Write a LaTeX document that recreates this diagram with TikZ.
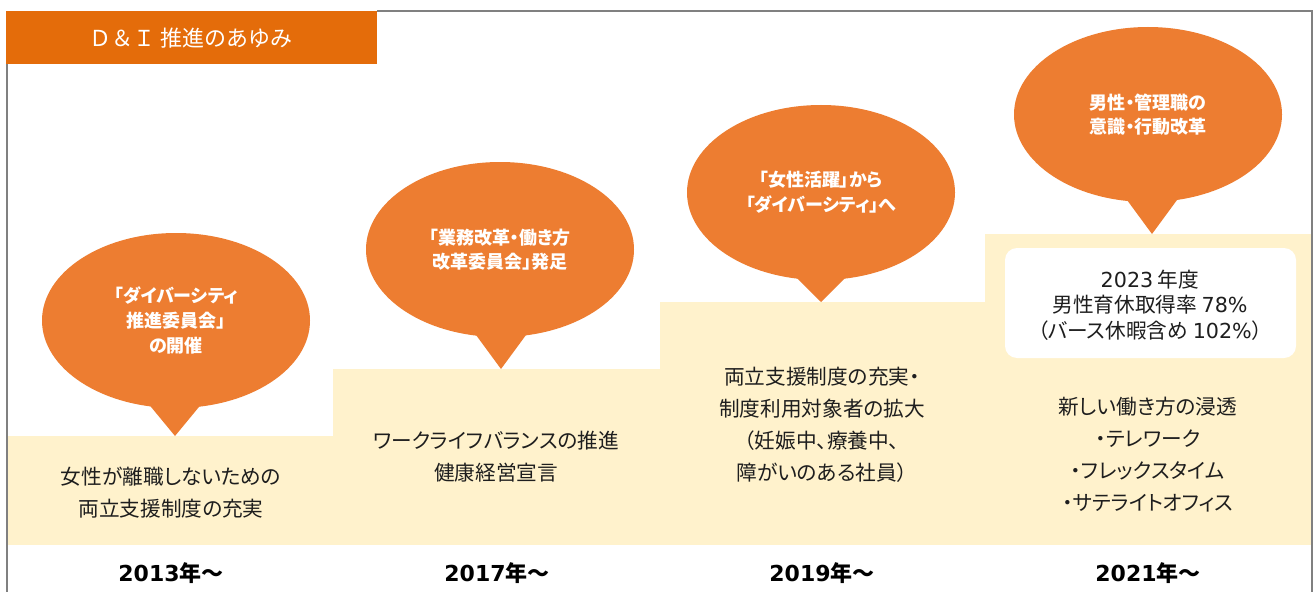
\documentclass[tikz,border=0pt]{standalone}
\usepackage{fontspec}
\setmainfont{Noto Sans CJK JP}[RawFeature=+palt]
\newfontfamily\cjkfixed{Noto Sans CJK JP}
\newfontfamily\latin{DejaVu Sans}
\usetikzlibrary{shapes.geometric,calc}
\definecolor{titleor}{HTML}{E46C0A}
\definecolor{callor}{HTML}{ED7D31}
\definecolor{stepy}{HTML}{FFF2CC}
\definecolor{framegray}{HTML}{808080}
\definecolor{txt}{HTML}{1E1E1E}
\begin{document}
\begin{tikzpicture}[x=0.75pt,y=-0.75pt,
  callout/.style={ellipse, fill=callor, minimum width=201pt, minimum height=131.25pt, inner sep=0pt,
    text=white, font=\fontsize{13.5}{18.5}\selectfont\bfseries, align=center},
  pointer/.style={fill=callor},
  stepbg/.style={fill=stepy},
  body/.style={font=\fontsize{15.5}{24}\selectfont, align=center, text=txt, inner sep=0pt},
  boxtext/.style={font=\fontsize{15.5}{19}\selectfont, align=center, text=txt, inner sep=0pt},
  year/.style={font=\fontsize{16.5}{18}\selectfont\bfseries, text=black, inner sep=0pt},
  frameline/.style={draw=framegray, line width=1.5pt}
]
\useasboundingbox (0,0) rectangle (1314,592);
\fill[white] (0,0) rectangle (1314,592);
% steps
\fill[stepbg] (8,436) rectangle (333,545);
\fill[stepbg] (333,369) rectangle (660,545);
\fill[stepbg] (660,302) rectangle (985,545);
\fill[stepbg] (985,234) rectangle (1312,545);
% frame
\draw[frameline] (7,64) -- (7,592);
\draw[frameline] (377,11) -- (1312,11) -- (1312,592);
% title
\node[fill=titleor, minimum width=278.25pt, minimum height=39.75pt, anchor=north west, inner sep=0pt] (title) at (6,11) {};
\node[text=white, font=\cjkfixed\fontsize{16.5}{18}\selectfont, inner sep=0pt] (titletext) at (191,38) {Ｄ＆Ｉ 推進のあゆみ};
% callouts
\node[callout] (c1) at (176,320.5) {「ダイバーシティ\\推進委員会」\\の開催};
\coordinate (t1) at (175,436);
\coordinate (b1) at (c1.south -| t1);
\fill[pointer] ($(b1)+(-27,-5)$) -- (t1) -- ($(b1)+(27,-5)$) -- cycle;

\node[callout] (c2) at (500,249.5) {「業務改革・働き方\\改革委員会」発足};
\coordinate (t2) at (501,369);
\coordinate (b2) at (c2.south -| t2);
\fill[pointer] ($(b2)+(-27,-5)$) -- (t2) -- ($(b2)+(27,-5)$) -- cycle;

\node[callout] (c3) at (821,192.5) {「女性活躍」から\\「ダイバーシティ」へ};
\coordinate (t3) at (821,302);
\coordinate (b3) at (c3.south -| t3);
\fill[pointer] ($(b3)+(-27,-5)$) -- (t3) -- ($(b3)+(27,-5)$) -- cycle;

\node[callout] (c4) at (1148,114.5) {男性・管理職の\\意識・行動改革};
\coordinate (t4) at (1152,234);
\coordinate (b4) at (c4.south -| t4);
\fill[pointer] ($(b4)+(-27,-5)$) -- (t4) -- ($(b4)+(27,-5)$) -- cycle;
% body texts
\node[body] (s1) at (171,492.5) {女性が離職しないための\\両立支援制度の充実};
\node[body] (s2) at (496,457) {ワークライフバランスの推進\\健康経営宣言};
\node[body] (s3) at (822,424.5) {両立支援制度の充実・\\制度利用対象者の拡大\\（妊娠中、療養中、\\障がいのある社員）};
\node[fill=white, rounded corners=9pt, minimum width=218.25pt, minimum height=82.5pt, inner sep=0pt] (box) at (1150.5,303) {};
\node[boxtext] (bt) at (1150,305) {{\latin 2023} 年度\\男性育休取得率 {\latin 78\%}\\（バース休暇含め {\latin 102\%}）};
\node[body] (s4) at (1148,455) {新しい働き方の浸透\\・テレワーク\\・フレックスタイム\\・サテライトオフィス};
% years
\node[year] (y1) at (171,573) {{\latin 2013}年〜};
\node[year] (y2) at (497,573) {{\latin 2017}年〜};
\node[year] (y3) at (822,573) {{\latin 2019}年〜};
\node[year] (y4) at (1148,573) {{\latin 2021}年〜};
\end{tikzpicture}
\end{document}
